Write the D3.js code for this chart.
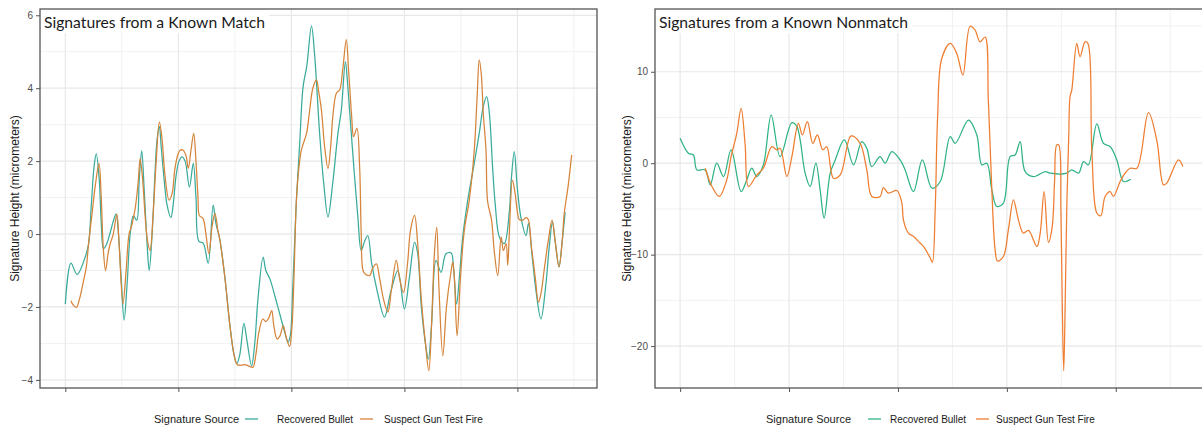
<!DOCTYPE html>
<html>
<head>
<meta charset="utf-8">
<script src="https://cdn.jsdelivr.net/npm/d3@7/dist/d3.min.js"></script>
<style>
  html, body { margin: 0; padding: 0; background: #fff; }
  svg { display: block; }
</style>
</head>
<body>
<svg id="chart" width="1202" height="427"></svg>
<script>
// ---- data -------------------------------------------------------------
const seriesNames = ["Recovered Bullet", "Suspect Gun Test Fire"];
const panelTitles = ["Signatures from a Known Match", "Signatures from a Known Nonmatch"];
const legendTitle = "Signature Source";
const yAxisTitle = "Signature Height (micrometers)";
const xTicks = [0, 500, 1000, 1500, 2000];
const xMinorTicks = [250, 750, 1250, 1750, 2250];
const matchYTicks = [-4, -2, 0, 2, 4, 6];
const matchYMinor = [-3, -1, 1, 3, 5];
const nonmatchYTicks = [-20, -10, 0, 10];
const nonmatchYMinor = [-15, -5, 5, 15];

// [position, height] pairs
const matchRecovered = [
  [0,-1.92],[25,-0.8],[52,-1.11],[88,-0.63],[103,-0.26],[115,0.8],[128,1.9],[137,2.2],
  [150,1.5],[159,0.3],[169,-0.4],[181,-0.3],[199,0.05],[212,0.35],[225,0.55],[234,0.1],
  [247,-1.2],[260,-2.36],[274,-1.3],[287,0.0],[301,0.5],[316,0.38],[327,1.5],[338,2.28],
  [349,1.2],[362,-0.3],[371,-1.0],[384,0.0],[397,1.7],[406,2.6],[416,2.95],[424,2.4],
  [437,1.5],[450,0.8],[467,0.45],[477,0.8],[490,1.6],[503,2.0],[516,2.12],[530,2.0],
  [549,1.29],[566,1.94],[578,1.0],[591,-0.2],[610,-0.25],[632,-0.8],[654,0.79],[666,0.3],
  [684,-0.17],[706,-1.2],[728,-2.5],[746,-3.3],[759,-3.55],[772,-3.3],[790,-2.45],[803,-2.9],
  [824,-3.61],[838,-3.0],[852,-1.8],[875,-0.63],[887,-1.0],[905,-1.23],[927,-1.7],[949,-2.2],
  [971,-2.7],[985,-2.97],[995,-2.8],[1006,-1.5],[1022,0.9],[1037,2.5],[1052,4.05],[1068,4.6],
  [1089,5.7],[1103,4.9],[1125,2.76],[1143,1.4],[1162,0.47],[1183,1.4],[1206,2.76],[1221,3.4],
  [1239,4.73],[1249,4.1],[1265,2.76],[1294,0.47],[1309,-0.45],[1324,-0.2],[1338,-0.04],[1355,-0.8],
  [1381,-1.6],[1412,-2.28],[1439,-1.6],[1471,-1.0],[1500,-2.05],[1522,-1.2],[1545,-0.22],[1558,-0.5],
  [1575,-2.0],[1593,-3.0],[1606,-3.43],[1620,-2.5],[1640,-0.72],[1662,-1.05],[1684,-0.54],[1707,-0.52],
  [1717,-0.9],[1731,-1.92],[1743,-1.2],[1758,-0.08],[1780,0.92],[1805,1.8],[1831,2.76],[1849,3.5],
  [1864,3.77],[1876,3.3],[1890,1.85],[1902,0.8],[1920,-0.08],[1942,-0.26],[1964,0.6],[1973,1.5],
  [1986,2.26],[1999,1.3],[2015,0.47],[2038,-0.04],[2049,0.29],[2065,-0.6],[2083,-1.6],[2104,-2.33],
  [2126,-1.37],[2140,-0.4],[2155,0.33],[2167,-0.2],[2184,-0.9],[2198,-0.2],[2211,0.6]
];
const matchSuspect = [
  [25,-1.83],[35,-1.95],[49,-2.01],[62,-1.8],[81,-1.27],[93,-0.9],[103,-0.26],[119,0.6],
  [132,1.3],[149,1.94],[159,1.0],[168,-0.4],[178,-1.0],[190,-0.5],[199,-0.26],[212,0.0],
  [228,0.54],[238,-0.3],[255,-1.92],[269,-1.0],[282,0.0],[294,0.24],[309,0.7],[322,1.4],
  [331,2.07],[342,1.5],[353,0.5],[364,-0.2],[375,-0.45],[388,0.5],[402,2.0],[416,3.08],
  [428,2.6],[441,1.6],[459,0.93],[472,1.1],[485,1.8],[499,2.2],[508,2.3],[521,2.3],
  [534,2.15],[544,1.8],[556,2.3],[568,2.76],[578,2.0],[587,1.0],[593,0.51],[609,0.43],
  [622,0.0],[635,-0.54],[649,0.2],[662,0.57],[675,0.1],[684,-0.17],[706,-1.2],[728,-2.5],
  [746,-3.3],[759,-3.57],[777,-3.6],[794,-3.58],[812,-3.62],[830,-3.65],[843,-3.3],[856,-2.7],
  [874,-2.33],[887,-2.4],[900,-2.3],[913,-2.1],[922,-2.5],[937,-2.88],[949,-2.8],[964,-2.51],
  [976,-2.8],[992,-3.09],[1002,-2.6],[1011,-1.3],[1022,0.9],[1033,1.8],[1044,2.3],[1067,2.76],
  [1081,3.4],[1095,4.0],[1111,4.23],[1121,3.9],[1133,3.4],[1147,2.4],[1162,1.8],[1174,2.4],
  [1183,3.2],[1199,3.86],[1214,3.96],[1227,4.5],[1243,5.33],[1253,4.5],[1267,3.2],[1275,2.67],
  [1290,2.9],[1302,1.83],[1309,0.0],[1317,-1.0],[1328,-1.1],[1346,-1.14],[1359,-0.95],[1376,-0.82],
  [1390,-1.2],[1408,-1.8],[1427,-2.14],[1443,-1.5],[1464,-0.72],[1478,-1.2],[1496,-1.6],[1514,-0.8],
  [1527,0.1],[1545,0.51],[1558,-0.2],[1575,-1.8],[1593,-3.0],[1608,-3.75],[1620,-2.5],[1633,-0.5],
  [1643,0.19],[1653,-1.5],[1670,-3.34],[1686,-2.0],[1707,-1.0],[1714,-0.77],[1721,-1.2],[1733,-2.79],
  [1748,-1.2],[1765,0.1],[1787,0.93],[1809,2.3],[1822,3.8],[1831,4.78],[1840,4.4],[1849,3.3],
  [1861,2.3],[1868,0.9],[1885,0.4],[1898,-0.5],[1913,-1.14],[1928,-0.08],[1938,-0.45],[1950,-0.26],
  [1957,-0.86],[1964,0.0],[1978,1.48],[1990,1.1],[2000,0.6],[2008,0.4],[2023,0.38],[2038,0.45],
  [2048,0.4],[2061,-0.3],[2079,-1.2],[2093,-1.87],[2105,-1.6],[2118,-1.0],[2136,-0.2],[2153,0.38],
  [2167,-0.2],[2184,-0.9],[2198,-0.2],[2207,0.56],[2224,1.3],[2240,2.17]
];
const nonmatchRecovered = [
  [0,2.73],[38,1.09],[61,0.9],[77,-0.73],[115,-0.73],[138,-2.37],[168,0.0],[199,-1.46],
  [234,1.45],[280,-3.1],[306,-1.82],[329,-0.55],[352,-1.46],[382,-0.18],[418,5.27],[459,0.72],
  [513,4.43],[536,4.0],[574,-1.09],[597,-2.55],[623,0.0],[643,-3.0],[661,-6.0],[689,-1.09],
  [712,0.36],[754,2.54],[796,-0.18],[834,2.36],[857,1.64],[880,-0.37],[918,0.72],[941,0.0],
  [972,1.27],[1010,0.36],[1033,-0.73],[1071,-3.1],[1112,0.36],[1156,-2.73],[1194,-2.0],[1240,2.9],
  [1263,2.18],[1324,4.72],[1362,3.09],[1385,-0.18],[1408,0.0],[1431,-2.91],[1454,-4.73],[1484,-4.36],
  [1515,0.72],[1538,0.9],[1561,2.36],[1584,-0.92],[1622,-1.46],[1676,-0.92],[1699,-1.09],[1775,-1.09],
  [1798,-0.73],[1829,-1.09],[1852,0.18],[1874,-0.18],[1913,4.29],[1943,2.18],[1974,1.82],[2005,0.36],
  [2035,-2.0],[2069,-1.75]
];
const nonmatchSuspect = [
  [115,-0.55],[146,-2.55],[180,-3.64],[214,-1.82],[234,0.72],[260,3.27],[280,6.0],[298,2.18],
  [314,-2.55],[352,-1.28],[382,-0.55],[421,1.82],[444,1.45],[459,1.64],[490,-1.46],[513,0.72],
  [543,4.36],[561,3.09],[584,4.54],[609,2.18],[630,3.09],[655,1.45],[673,1.82],[704,-1.64],
  [735,-1.28],[785,2.98],[826,2.18],[857,-0.73],[880,-3.64],[918,-3.64],[933,-2.66],[956,-3.27],
  [995,-2.98],[1018,-4.36],[1025,-6.2],[1048,-7.64],[1071,-8.0],[1094,-8.55],[1117,-9.1],[1148,-10.36],
  [1158,-10.84],[1171,-5.0],[1182,5.0],[1201,11.45],[1240,13.1],[1270,12.0],[1298,9.63],[1331,14.98],
  [1354,14.55],[1377,13.27],[1400,13.8],[1415,6.9],[1431,-2.9],[1446,-9.46],[1457,-10.7],[1484,-10.2],
  [1507,-7.27],[1530,-4.0],[1546,-5.45],[1553,-6.2],[1576,-7.64],[1599,-7.35],[1638,-9.1],[1653,-7.64],
  [1671,-3.1],[1691,-8.66],[1708,-7.0],[1719,-2.0],[1729,2.0],[1738,2.0],[1748,-5.0],[1754,-15.0],
  [1761,-22.7],[1768,-15.0],[1775,-5.0],[1784,3.0],[1790,7.27],[1798,8.0],[1821,13.1],[1836,11.64],
  [1859,13.27],[1872,13.1],[1890,1.45],[1913,-5.45],[1931,-5.75],[1951,-3.64],[1974,-3.1],[1989,-3.64],
  [2020,-2.0],[2043,-1.09],[2066,-0.55],[2097,-0.55],[2150,5.52],[2188,2.54],[2219,-2.37],[2234,-2.18],
  [2288,0.36],[2308,-0.37]
];

// ---- layout & style ---------------------------------------------------
const svg = d3.select("#chart");
const FONT = "'Liberation Sans', Arial, sans-serif";

const panels = [
  {
    title: panelTitles[0],
    series: [matchRecovered, matchSuspect],
    colors: ["#3aab9b", "#d6843a"],
    yTicks: matchYTicks, yMinor: matchYMinor,
    left: 40, right: 597, top: 9, bottom: 388,
    yTitleX: 15,
    legend: { title: 154, key1: 245, label1: 277, key2: 360, label2: 384 }
  },
  {
    title: panelTitles[1],
    series: [nonmatchRecovered, nonmatchSuspect],
    colors: ["#2fb383", "#ee7d30"],
    yTicks: nonmatchYTicks, yMinor: nonmatchYMinor,
    left: 655, right: 1208, top: 9, bottom: 388,
    yTitleX: 627,
    legend: { title: 766, key1: 868, label1: 890, key2: 976, label2: 996 }
  }
];

// ggplot-style 5% expansion of the data range
function expanded(extent) {
  const pad = (extent[1] - extent[0]) * 0.05;
  return [extent[0] - pad, extent[1] + pad];
}

panels.forEach((p, i) => {
  const all = p.series.flat();
  const x = d3.scaleLinear()
    .domain(expanded(d3.extent(all, d => d[0])))
    .range([p.left, p.right]);
  const y = d3.scaleLinear()
    .domain(expanded(d3.extent(all, d => d[1])))
    .range([p.bottom, p.top]);

  const g = svg.append("g");
  const clipId = "clip" + i;
  svg.append("clipPath").attr("id", clipId)
    .append("rect").attr("x", p.left).attr("y", p.top)
    .attr("width", p.right - p.left).attr("height", p.bottom - p.top);

  const grid = g.append("g").attr("clip-path", `url(#${clipId})`);
  // minor grid
  grid.selectAll(".ymin").data(p.yMinor).join("line")
    .attr("x1", p.left).attr("x2", p.right)
    .attr("y1", d => y(d)).attr("y2", d => y(d))
    .attr("stroke", "#f1f1f1").attr("stroke-width", 1);
  grid.selectAll(".xmin").data(xMinorTicks).join("line")
    .attr("y1", p.top).attr("y2", p.bottom)
    .attr("x1", d => x(d)).attr("x2", d => x(d))
    .attr("stroke", "#f1f1f1").attr("stroke-width", 1);
  // major grid
  grid.selectAll(".ymaj").data(p.yTicks).join("line")
    .attr("x1", p.left).attr("x2", p.right)
    .attr("y1", d => y(d)).attr("y2", d => y(d))
    .attr("stroke", "#e8e8e8").attr("stroke-width", 1.2);
  grid.selectAll(".xmaj").data(xTicks).join("line")
    .attr("y1", p.top).attr("y2", p.bottom)
    .attr("x1", d => x(d)).attr("x2", d => x(d))
    .attr("stroke", "#e8e8e8").attr("stroke-width", 1.2);

  // panel title on a white label
  const titleG = g.append("g");
  const titleText = titleG.append("text")
    .attr("x", p.left + 4).attr("y", p.top + 19)
    .attr("font-family", "Lato, 'Open Sans', sans-serif")
    .attr("font-size", 15.7)
    .attr("fill", "#1a1a1a")
    .text(p.title);
  const tw = titleText.node().getComputedTextLength();
  titleG.insert("rect", "text")
    .attr("x", p.left).attr("y", p.top)
    .attr("width", tw + 8).attr("height", 24)
    .attr("fill", "#fff");

  // lines
  const line = d3.line()
    .x(d => x(d[0])).y(d => y(d[1]))
    .curve(d3.curveCatmullRom.alpha(0.5));
  const lines = g.append("g").attr("clip-path", `url(#${clipId})`);
  p.series.forEach((s, k) => {
    lines.append("path")
      .datum(s)
      .attr("d", line)
      .attr("fill", "none")
      .attr("stroke", p.colors[k])
      .attr("stroke-width", 1.25)
      .attr("stroke-linejoin", "round");
  });

  // axes
  const yAxis = g.append("g")
    .attr("transform", `translate(${p.left},0)`)
    .call(d3.axisLeft(y).tickValues(p.yTicks).tickSize(4).tickPadding(3).tickSizeOuter(0));
  yAxis.select(".domain").remove();
  yAxis.selectAll(".tick line").attr("stroke", "#555");
  yAxis.selectAll(".tick text")
    .attr("font-family", FONT).attr("font-size", 10).attr("fill", "#4d4d4d");

  const xAxis = g.append("g")
    .attr("transform", `translate(0,${p.bottom})`)
    .call(d3.axisBottom(x).tickValues(xTicks).tickSize(4).tickFormat(() => "").tickSizeOuter(0));
  xAxis.select(".domain").remove();
  xAxis.selectAll(".tick line").attr("stroke", "#555");

  // panel border
  g.append("rect")
    .attr("x", p.left).attr("y", p.top)
    .attr("width", p.right - p.left).attr("height", p.bottom - p.top)
    .attr("fill", "none").attr("stroke", "#555").attr("stroke-width", 1.3);

  // y axis title
  g.append("text")
    .attr("transform", `translate(${p.yTitleX},${(p.top + p.bottom) / 2}) rotate(-90)`)
    .attr("text-anchor", "middle")
    .attr("dominant-baseline", "central")
    .attr("font-family", FONT).attr("font-size", 12)
    .attr("fill", "#1a1a1a")
    .text(yAxisTitle);

  // legend
  const L = p.legend, ly = 419;
  const leg = g.append("g");
  leg.append("text")
    .attr("x", L.title).attr("y", ly + 4)
    .attr("font-family", FONT).attr("font-size", 11).attr("fill", "#1a1a1a")
    .text(legendTitle);
  [[L.key1, L.label1], [L.key2, L.label2]].forEach(([kx, tx], k) => {
    leg.append("line")
      .attr("x1", kx).attr("x2", kx + 13)
      .attr("y1", ly).attr("y2", ly)
      .attr("stroke", p.colors[k]).attr("stroke-width", 1.3);
    leg.append("text")
      .attr("x", tx).attr("y", ly + 3.5)
      .attr("font-family", FONT).attr("font-size", 10).attr("fill", "#1a1a1a")
      .text(seriesNames[k]);
  });
});
</script>
</body>
</html>
